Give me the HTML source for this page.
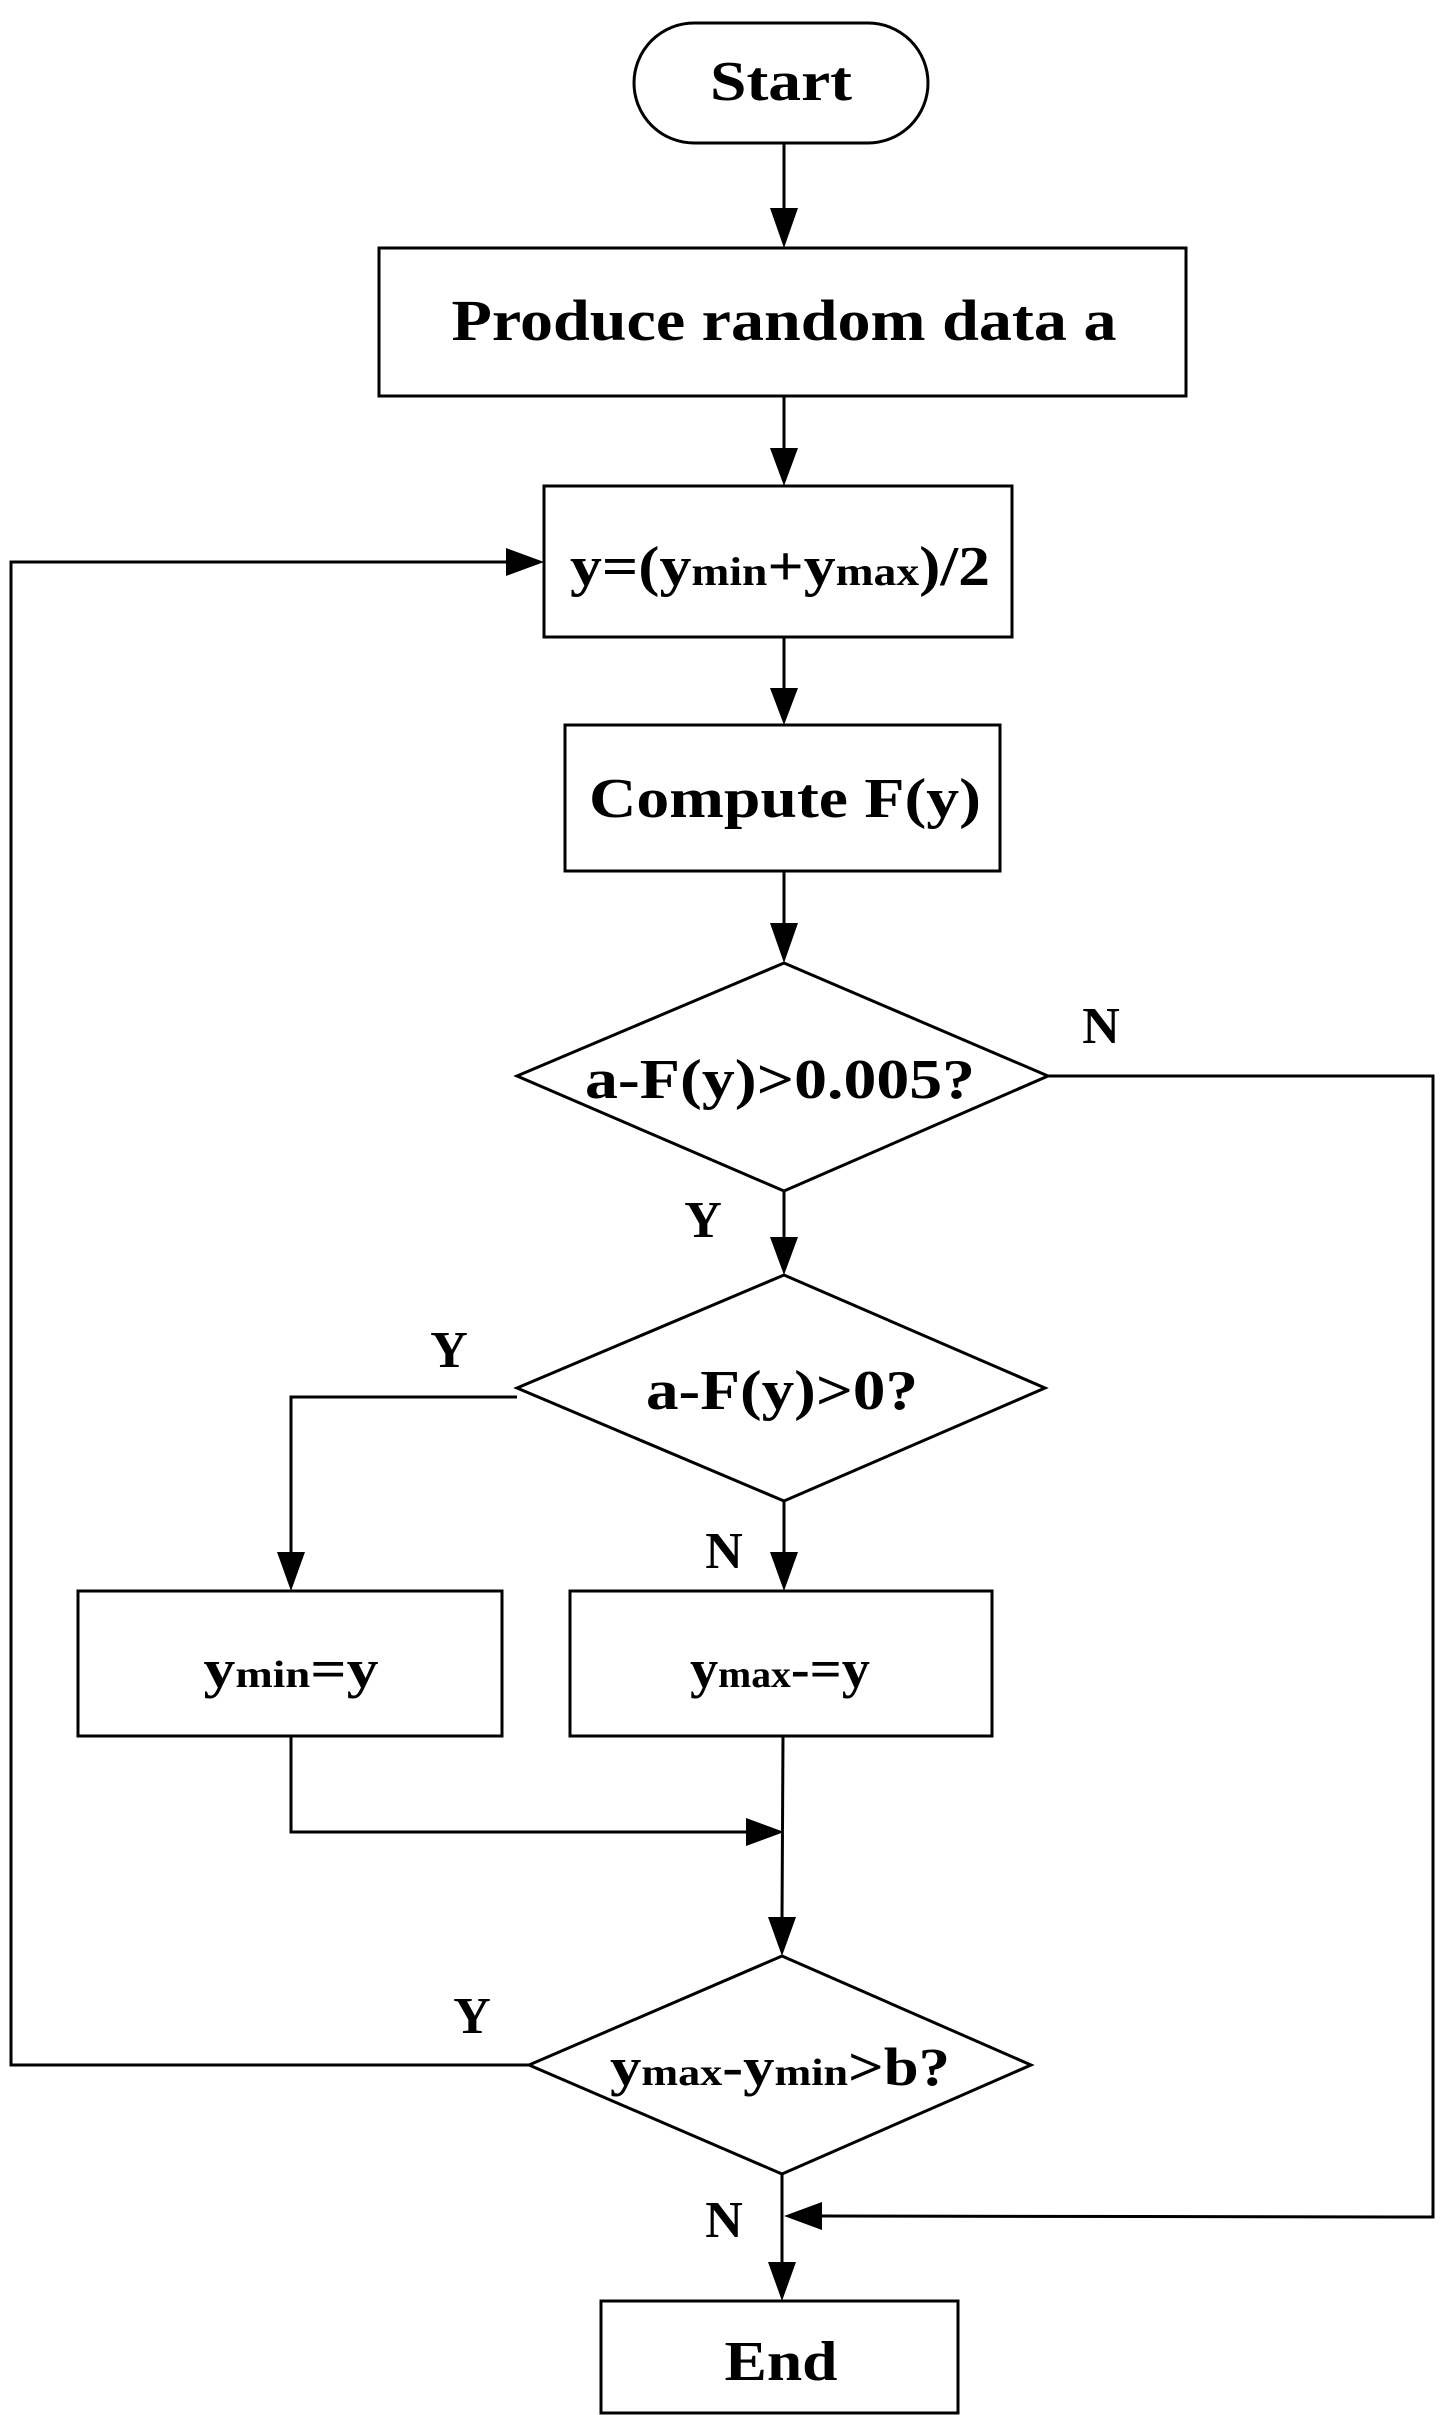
<!DOCTYPE html>
<html><head><meta charset="utf-8"><style>html,body{margin:0;padding:0;background:#fff}svg{display:block}</style></head>
<body>
<svg width="1444" height="2415" viewBox="0 0 1444 2415" xmlns="http://www.w3.org/2000/svg" font-family="Liberation Serif, serif" font-weight="bold" fill="none" stroke="#000" stroke-width="3">
<defs><marker id="a" markerWidth="12" markerHeight="10" refX="12" refY="5" orient="auto" markerUnits="userSpaceOnUse" viewBox="0 0 12 10" ><path d="M0,0 L12,5 L0,10 z" fill="#000" stroke="none"/></marker></defs>
<style>.ar{marker-end:url(#a)}</style>
<!-- shapes -->
<rect x="634" y="23" width="294" height="120" rx="60"/>
<rect x="379" y="248" width="807" height="148"/>
<rect x="544" y="486" width="468" height="151"/>
<rect x="565" y="725" width="435" height="146"/>
<polygon points="517,1076 784,963 1048,1076 784,1191"/>
<polygon points="517,1388 784,1275 1045,1388 784,1501"/>
<rect x="78" y="1591" width="424" height="145"/>
<rect x="570" y="1591" width="422" height="145"/>
<polygon points="529,2065 782,1956 1031,2065 782,2174"/>
<rect x="601" y="2301" width="357" height="112"/>
<!-- connectors -->
<g>
<line x1="784" y1="143" x2="784" y2="210"/><polygon points="770,208 798,208 784,248" fill="#000" stroke="none"/>
<line x1="784" y1="396" x2="784" y2="450"/><polygon points="770,448 798,448 784,486" fill="#000" stroke="none"/>
<line x1="784" y1="637" x2="784" y2="690"/><polygon points="770,688 798,688 784,725" fill="#000" stroke="none"/>
<line x1="784" y1="871" x2="784" y2="925"/><polygon points="770,923 798,923 784,963" fill="#000" stroke="none"/>
<line x1="784" y1="1191" x2="784" y2="1240"/><polygon points="770,1237 798,1237 784,1275" fill="#000" stroke="none"/>
<line x1="784" y1="1501" x2="784" y2="1555"/><polygon points="770,1552 798,1552 784,1591" fill="#000" stroke="none"/>
<polyline points="517,1397 291,1397 291,1555"/><polygon points="277,1552 305,1552 291,1591" fill="#000" stroke="none"/>
<polyline points="291,1736 291,1832 750,1832"/><polygon points="746,1818 746,1846 784,1832" fill="#000" stroke="none"/>
<line x1="783" y1="1736" x2="782" y2="1920"/><polygon points="768,1917 796,1917 782,1956" fill="#000" stroke="none"/>
<polyline points="529,2065 11,2065 11,562 510,562"/><polygon points="506,548 506,576 544,562" fill="#000" stroke="none"/>
<polyline points="1048,1076 1433,1076 1433,2217 820,2216"/><polygon points="822,2202 822,2230 784,2216" fill="#000" stroke="none"/>
<line x1="782" y1="2174" x2="782" y2="2265"/><polygon points="768,2262 796,2262 782,2301" fill="#000" stroke="none"/>
</g>
<g fill="#000" stroke="none" text-anchor="middle">
<text x="781" y="100" font-size="56" textLength="142" lengthAdjust="spacingAndGlyphs">Start</text>
<text x="784" y="340" font-size="58" textLength="665" lengthAdjust="spacingAndGlyphs">Produce random data a</text>
<text x="780" y="585" font-size="56" textLength="420" lengthAdjust="spacingAndGlyphs">y=(y<tspan font-size="40">min</tspan>+y<tspan font-size="40">max</tspan>)/2</text>
<text x="785" y="817" font-size="56" textLength="392" lengthAdjust="spacingAndGlyphs">Compute F(y)</text>
<text x="780" y="1098" font-size="56" textLength="390" lengthAdjust="spacingAndGlyphs">a-F(y)&gt;0.005?</text>
<text x="782" y="1409" font-size="56" textLength="272" lengthAdjust="spacingAndGlyphs">a-F(y)&gt;0?</text>
<text x="291" y="1687" font-size="54" textLength="175" lengthAdjust="spacingAndGlyphs">y<tspan font-size="38">min</tspan>=y</text>
<text x="780" y="1687" font-size="54" textLength="180" lengthAdjust="spacingAndGlyphs">y<tspan font-size="38">max</tspan>-=y</text>
<text x="780" y="2085" font-size="54" textLength="340" lengthAdjust="spacingAndGlyphs">y<tspan font-size="38">max</tspan>-y<tspan font-size="38">min</tspan>&gt;b?</text>
<text x="781" y="2380" font-size="56" textLength="113" lengthAdjust="spacingAndGlyphs">End</text>
<text x="1101" y="1043" font-size="52">N</text>
<text x="703" y="1237" font-size="52">Y</text>
<text x="449" y="1367" font-size="52">Y</text>
<text x="724" y="1568" font-size="52">N</text>
<text x="472" y="2033" font-size="52">Y</text>
<text x="724" y="2237" font-size="52">N</text>
</g>
</svg>
</body></html>
